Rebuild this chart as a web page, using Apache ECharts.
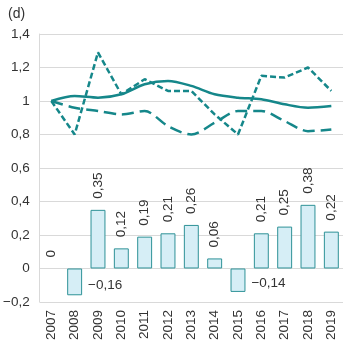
<!DOCTYPE html>
<html>
<head>
<meta charset="utf-8">
<script src="https://cdn.jsdelivr.net/npm/echarts@6/dist/echarts.min.js"></script>
<style>
  html, body { margin: 0; padding: 0; background: #fff; }
  #main { width: 343px; height: 343px; }
</style>
</head>
<body>
<div id="main"></div>
<script>
// values
var years = ['2007', '2008', '2009', '2010', '2011', '2012', '2013', '2014', '2015', '2016', '2017', '2018', '2019'];
var solidLine = [1.00, 1.03, 1.02, 1.04, 1.10, 1.12, 1.09, 1.04, 1.02, 1.01, 0.98, 0.96, 0.97];
var shortDashLine = [1.00, 0.80, 1.29, 1.04, 1.13, 1.06, 1.06, 0.92, 0.80, 1.15, 1.14, 1.20, 1.06];
var longDashLine = [1.00, 0.96, 0.94, 0.92, 0.94, 0.85, 0.80, 0.87, 0.94, 0.94, 0.88, 0.82, 0.83];
var barValues = [0, -0.16, 0.35, 0.12, 0.19, 0.21, 0.26, 0.06, -0.14, 0.21, 0.25, 0.38, 0.22];
var yTicks = { min: -0.2, max: 1.4, step: 0.2 };

var teal = '#15878a';
var textColor = '#333';
var font = 'Liberation Sans, Arial, sans-serif';

function fmt(v, digits) {
	var s = Number(v).toFixed(digits);
	if (digits > 0) s = s.replace(/\.?0+$/, '');
	return s.replace('.', ',').replace('-', '\u2212');
}

// positive bars get a rotated label on top, negative ones a flat label on the right
var barData = barValues.map(function (v) {
	var item = { value: v };
	if (v < 0) {
		item.label = { position: 'right', rotate: 0, align: 'left', verticalAlign: 'middle', distance: 6, offset: [0, 3] };
	}
	if (v === 0) {
		item.itemStyle = { borderWidth: 0 };  // no outline for the empty bar
	}
	return item;
});

var myChart = echarts.init(document.getElementById('main'), null, { renderer: 'canvas' });
myChart.setOption({
	animation: false,
	title: {
		text: '(d)', left: 3, top: 2,
		textStyle: { fontSize: 14, fontWeight: 'normal', color: textColor, fontFamily: font }
	},
	grid: { left: 37, right: -3, top: 34, bottom: 41, containLabel: false },
	xAxis: {
		type: 'category',
		data: years,
		axisLine: { onZero: false, show: false },
		axisTick: { show: false },
		axisLabel: { rotate: 90, margin: 8, fontSize: 13.5, color: textColor, fontFamily: font, interval: 0 }
	},
	yAxis: {
		type: 'value',
		min: yTicks.min, max: yTicks.max, interval: yTicks.step,
		axisLine: { show: true, lineStyle: { color: '#d9d9d9' } },
		axisTick: { show: false },
		splitLine: { lineStyle: { color: '#d9d9d9', width: 1 } },
		axisLabel: {
			margin: 10, fontSize: 13.5, color: textColor, fontFamily: font,
			formatter: function (v) { return fmt(Math.round(v * 10) / 10, 1); }
		}
	},
	series: [{
		type: 'bar',
		data: barData,
		barWidth: '64%',
		itemStyle: { color: '#d6eef6', borderColor: '#2e9297', borderWidth: 1 },
		label: {
			show: true, position: 'top', rotate: 90, align: 'left', verticalAlign: 'middle', distance: 11,
			fontSize: 13.5, color: textColor, fontFamily: font,
			formatter: function (p) { return fmt(p.value, 2); }
		}
	}, {
		type: 'line',
		data: solidLine,
		smooth: 0.3,
		symbol: 'none',
		lineStyle: { color: teal, width: 2.5 }
	}, {
		type: 'line',
		data: shortDashLine,
		symbol: 'none',
		lineStyle: { color: teal, width: 2.5, type: [6, 3] }
	}, {
		type: 'line',
		data: longDashLine,
		smooth: 0.3,
		symbol: 'none',
		lineStyle: { color: teal, width: 2.5, type: [12, 6] }
	}]
});
</script>
</body>
</html>
